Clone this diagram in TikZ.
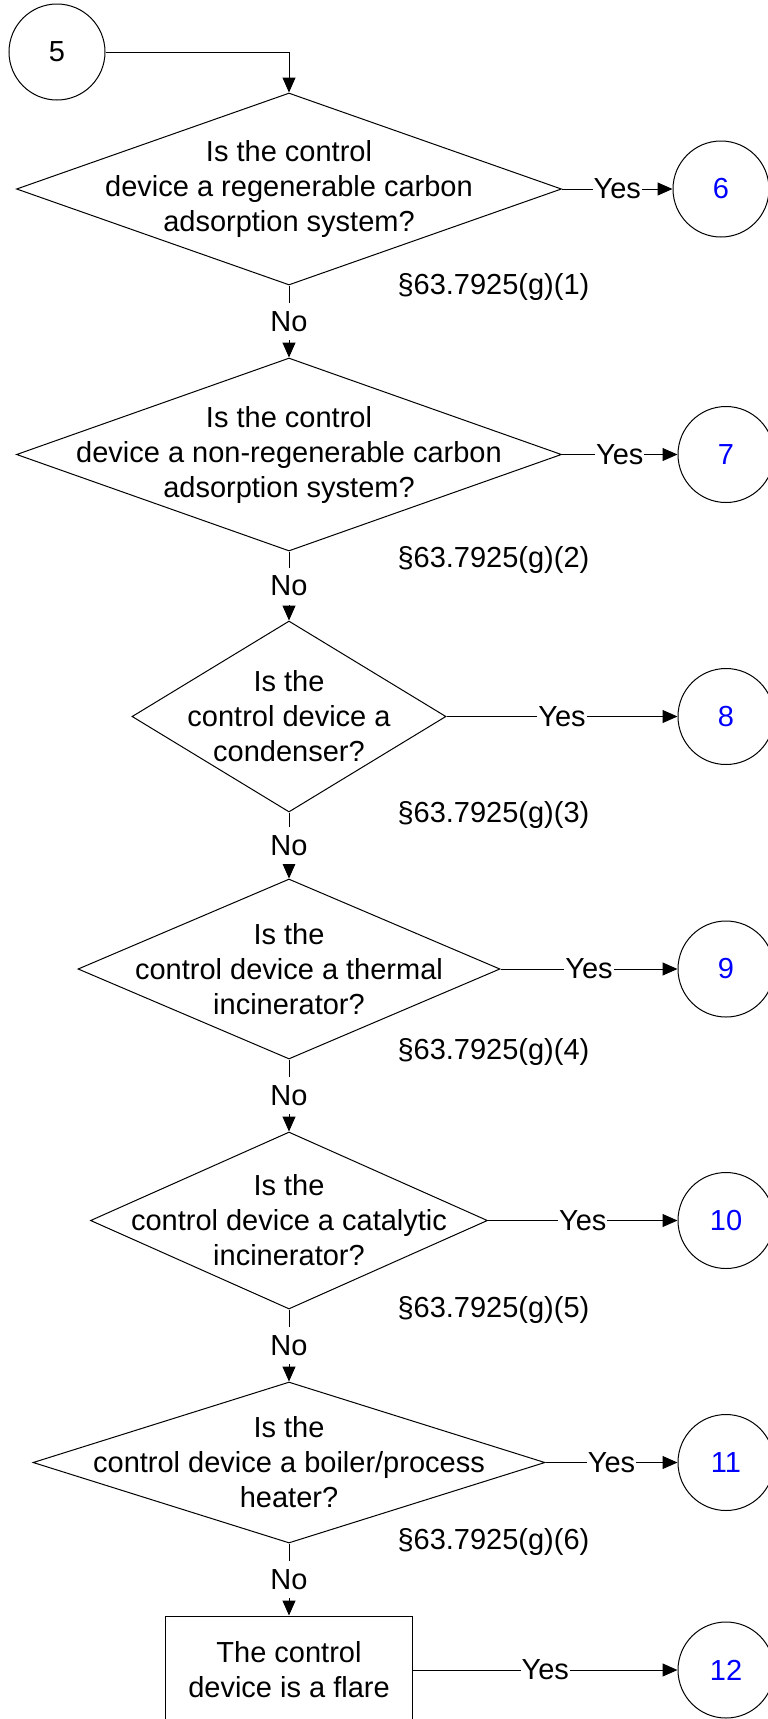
\documentclass[tikz,border=0pt]{standalone}
\usepackage{fontspec}
\setmainfont{Liberation Sans}
\usetikzlibrary{shapes.geometric,arrows.meta}
\begin{document}
\begin{tikzpicture}[x=1pt,y=-1pt,
  font=\fontsize{29}{35}\selectfont,
  every path/.style={line width=1pt},
  circ/.style={circle,draw,line width=1pt,minimum size=96pt,inner sep=0pt},
  blu/.style={circ,text={rgb,255:red,0;green,0;blue,255}},
  dia/.style={diamond,draw,line width=1pt,inner sep=0pt},
  dtext/.style={align=center,inner sep=0pt},
  boxnode/.style={rectangle,draw,line width=1pt,inner sep=0pt,minimum width=247pt,minimum height=108pt,align=center},
  arr/.style={-{Triangle[length=15pt,width=13pt]}},
  lbl/.style={fill=white,inner xsep=1pt,inner ysep=0pt,minimum height=37pt},
  ref/.style={anchor=west,inner sep=0pt}
]
\useasboundingbox (0,0) rectangle (768,1719);

% start connector
\node[circ] (c5) at (57,52) {5};

% diamonds
\node[dia,minimum width=545pt,minimum height=192pt] (d1) at (289,189) {};
\node[dtext] (t1) at (d1.center) {Is the control\\device a regenerable carbon\\adsorption system?};
\node[dia,minimum width=545pt,minimum height=193pt] (d2) at (289,454.5) {};
\node[dtext] (t2) at (d2.center) {Is the control\\device a non-regenerable carbon\\adsorption system?};
\node[dia,minimum width=314pt,minimum height=191pt] (d3) at (289,716.5) {};
\node[dtext] (t3) at (d3.center) {Is the\\control device a\\condenser?};
\node[dia,minimum width=422pt,minimum height=180pt] (d4) at (289,969) {};
\node[dtext] (t4) at (d4.center) {Is the\\control device a thermal\\incinerator?};
\node[dia,minimum width=397pt,minimum height=177pt] (d5) at (289,1220.5) {};
\node[dtext] (t5) at (d5.center) {Is the\\control device a catalytic\\incinerator?};
\node[dia,minimum width=512pt,minimum height=161pt] (d6) at (289,1462.5) {};
\node[dtext] (t6) at (d6.center) {Is the\\control device a boiler/process\\heater?};
\node[boxnode] (bx) at (289,1670) {The control\\device is a flare};

% off-page connectors
\node[blu] (c6) at (721,189) {6};
\node[blu] (c7) at (726,454.5) {7};
\node[blu] (c8) at (726,716.5) {8};
\node[blu] (c9) at (726,969) {9};
\node[blu] (c10) at (726,1220.5) {10};
\node[blu] (c11) at (726,1462.5) {11};
\node[blu] (c12) at (726,1670) {12};

% references
\node[ref] (r1) at (397,287) {§63.7925(g)(1)};
\node[ref] (r2) at (397,560) {§63.7925(g)(2)};
\node[ref] (r3) at (397,815) {§63.7925(g)(3)};
\node[ref] (r4) at (397,1052) {§63.7925(g)(4)};
\node[ref] (r5) at (397,1310) {§63.7925(g)(5)};
\node[ref] (r6) at (397,1542) {§63.7925(g)(6)};

% connectors
\draw[arr] (c5.east) -| (d1.north);
\draw[arr] (d1.east) -- node[lbl] {Yes} (c6.west);
\draw[arr] (d2.east) -- node[lbl] {Yes} (c7.west);
\draw[arr] (d3.east) -- node[lbl] {Yes} (c8.west);
\draw[arr] (d4.east) -- node[lbl] {Yes} (c9.west);
\draw[arr] (d5.east) -- node[lbl] {Yes} (c10.west);
\draw[arr] (d6.east) -- node[lbl] {Yes} (c11.west);
\draw[arr] (bx.east) -- node[lbl] {Yes} (c12.west);

\draw[arr] (d1.south) -- node[lbl] {No} (d2.north);
\draw[arr] (d2.south) -- node[lbl] {No} (d3.north);
\draw[arr] (d3.south) -- node[lbl] {No} (d4.north);
\draw[arr] (d4.south) -- node[lbl] {No} (d5.north);
\draw[arr] (d5.south) -- node[lbl] {No} (d6.north);
\draw[arr] (d6.south) -- node[lbl] {No} (bx.north);
\end{tikzpicture}
\end{document}
